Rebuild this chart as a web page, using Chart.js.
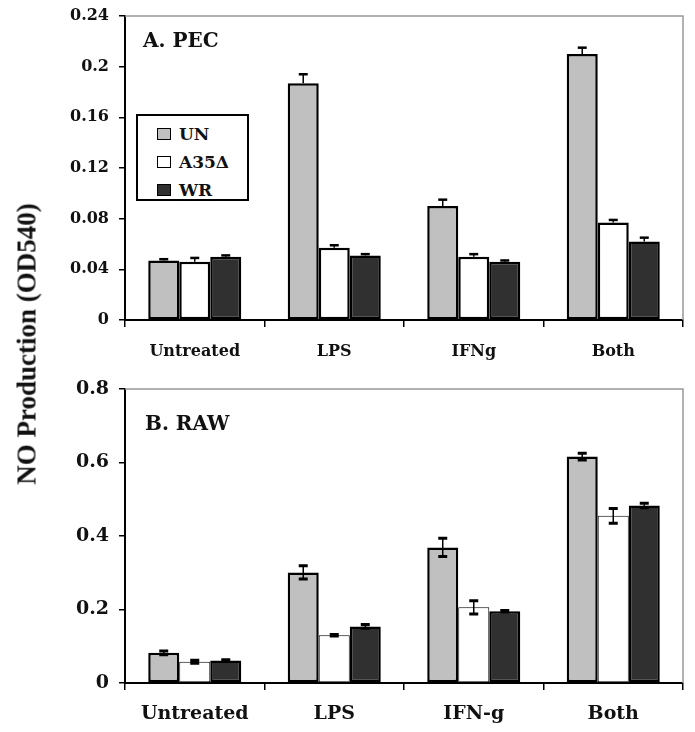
<!DOCTYPE html>
<html>
<head>
<meta charset="utf-8">
<script src="https://cdn.jsdelivr.net/npm/chart.js@4"></script>
<style>
  body { margin: 0; background: #fff; }
  #wrap { position: relative; width: 695px; height: 732px; overflow: hidden; }
  canvas { position: absolute; left: 0; }
  #chart-a { top: 0; }
  #chart-b { top: 360px; }
  #ytitle {
    position: absolute; left: 27px; top: 344px;
    transform: translate(-50%, -50%) rotate(-90deg);
    font: bold 27px "Liberation Serif", serif; white-space: nowrap; color: #111;
  }
  #legend {
    position: absolute; left: 136px; top: 114px; width: 109px; height: 83px;
    border: 2px solid #000; background: #fff;
  }
  .item { position: absolute; left: 19px; height: 20px; display: flex; align-items: center;
    font: bold 17px "DejaVu Serif", serif; color: #111; }
  .item span.sw { width: 12px; height: 10px; border: 1.5px solid #000; margin-right: 8px; }
</style>
</head>
<body>
<div id="wrap">
  <canvas id="chart-a" width="695" height="360"></canvas>
  <canvas id="chart-b" width="695" height="372"></canvas>
  <div id="ytitle">NO Production (OD540)</div>
  <div id="legend"></div>
</div>
<script>
const seriesLabels = ["UN", "A35Δ", "WR"];
const seriesColors = ["#c0c0c0", "#ffffff", "#303030"];

// panel A: PEC
const pecCategories = ["Untreated", "LPS", "IFNg", "Both"];
const pecUN = [0.047, 0.187, 0.090, 0.210];
const pecA35 = [0.046, 0.057, 0.050, 0.077];
const pecWR = [0.050, 0.051, 0.046, 0.062];
const pecUNErr = [0.001, 0.007, 0.005, 0.005];
const pecA35Err = [0.003, 0.002, 0.002, 0.002];
const pecWRErr = [0.001, 0.001, 0.001, 0.003];
const pecTicks = ["0", "0.04", "0.08", "0.12", "0.16", "0.2", "0.24"];

// panel B: RAW
const rawCategories = ["Untreated", "LPS", "IFN-g", "Both"];
const rawUN = [0.082, 0.301, 0.369, 0.616];
const rawA35 = [0.058, 0.130, 0.206, 0.455];
const rawWR = [0.061, 0.154, 0.195, 0.483];
const rawUNErr = [0.005, 0.018, 0.025, 0.009];
const rawA35Err = [0.004, 0.002, 0.018, 0.020];
const rawWRErr = [0.002, 0.005, 0.002, 0.006];
const rawTicks = ["0", "0.2", "0.4", "0.6", "0.8"];

// legend
const legendEl = document.getElementById("legend");
seriesLabels.forEach((lbl, i) => {
  const row = document.createElement("div");
  row.className = "item";
  row.style.top = (8 + i * 28) + "px";
  row.innerHTML = `<span class="sw" style="background:${seriesColors[i]}"></span>${lbl}`;
  legendEl.appendChild(row);
});

// error bars + frame + panel label
const extras = {
  id: "extras",
  afterDatasetsDraw(chart, args, opts) {
    const ctx = chart.ctx;
    const y = chart.scales.y;
    const area = chart.chartArea;
    ctx.save();
    chart.data.datasets.forEach((ds, di) => {
      const meta = chart.getDatasetMeta(di);
      meta.data.forEach((bar, i) => {
        const v = ds.data[i];
        const e = ds.err[i];
        const top = y.getPixelForValue(v + e);
        const bot = opts.both ? y.getPixelForValue(v - e) : y.getPixelForValue(v);
        ctx.strokeStyle = "#000";
        ctx.lineWidth = 1.5;
        ctx.beginPath();
        ctx.moveTo(bar.x, top);
        ctx.lineTo(bar.x, bot);
        ctx.stroke();
        ctx.lineWidth = opts.capWidth;
        ctx.beginPath();
        ctx.moveTo(bar.x - 4.5, top);
        ctx.lineTo(bar.x + 4.5, top);
        if (opts.both) {
          ctx.moveTo(bar.x - 4.5, bot);
          ctx.lineTo(bar.x + 4.5, bot);
        }
        ctx.stroke();
      });
    });
    // grey top and right frame
    ctx.strokeStyle = "#999";
    ctx.lineWidth = 1.5;
    ctx.beginPath();
    ctx.moveTo(area.left, area.top);
    ctx.lineTo(area.right, area.top);
    ctx.lineTo(area.right, area.bottom);
    ctx.stroke();
    ctx.fillStyle = "#111";
    ctx.font = "bold 20px 'DejaVu Serif'";
    ctx.textBaseline = "alphabetic";
    ctx.fillText(opts.label, opts.lx, opts.ly);
    ctx.restore();
  }
};

function makeChart(id, cats, series, errs, ticks, max, step, cfg) {
  const datasets = series.map((s, i) => ({
    label: seriesLabels[i],
    data: s,
    err: errs[i],
    backgroundColor: seriesColors[i],
    borderColor: "#000",
    borderWidth: i === 1 ? cfg.whiteBorder : 2.5,
    borderSkipped: false,
    barPercentage: 1,
    categoryPercentage: 0.667,
  }));
  return new Chart(document.getElementById(id), {
    type: "bar",
    data: { labels: cats, datasets },
    options: {
      responsive: false,
      animation: false,
      layout: { padding: { top: cfg.padTop, right: 12, left: 0, bottom: 0 } },
      scales: {
        x: {
          afterFit: (s) => { s.height = cfg.xHeight; },
          grid: { display: true, drawOnChartArea: false, offset: true, tickLength: 7, color: "#000", lineWidth: 1.5 },
          border: { color: "#000", width: 2 },
          ticks: { color: "#111", padding: cfg.xPad, font: { family: "DejaVu Serif", weight: "bold", size: cfg.xFont } },
        },
        y: {
          min: 0,
          max: max,
          afterFit: (s) => { s.width = 125; s.paddingTop = 0; s.paddingBottom = 0; },
          grid: { drawOnChartArea: false, tickLength: 6, color: "#000", lineWidth: 1.5 },
          border: { color: "#000", width: 2 },
          ticks: {
            stepSize: step,
            color: "#111",
            padding: 10,
            font: { family: "DejaVu Serif", weight: "bold", size: cfg.yFont },
            callback: (v, i) => ticks[i],
          },
        },
      },
      plugins: {
        legend: { display: false },
        tooltip: { enabled: false },
        extras: { both: cfg.both, capWidth: cfg.cap, label: cfg.label, lx: cfg.lx, ly: cfg.ly },
      },
    },
    plugins: [extras],
  });
}

makeChart("chart-a", pecCategories, [pecUN, pecA35, pecWR], [pecUNErr, pecA35Err, pecWRErr],
  pecTicks, 0.24, 0.04,
  { padTop: 16, xHeight: 40, xPad: 15, xFont: 16, yFont: 16, whiteBorder: 2.5, both: false, cap: 2.5,
    label: "A. PEC", lx: 143, ly: 47 });

makeChart("chart-b", rawCategories, [rawUN, rawA35, rawWR], [rawUNErr, rawA35Err, rawWRErr],
  rawTicks, 0.8, 0.2,
  { padTop: 29, xHeight: 49, xPad: 13, xFont: 19, yFont: 19, whiteBorder: 1, both: true, cap: 3,
    label: "B. RAW", lx: 145, ly: 70 });
</script>
</body>
</html>
